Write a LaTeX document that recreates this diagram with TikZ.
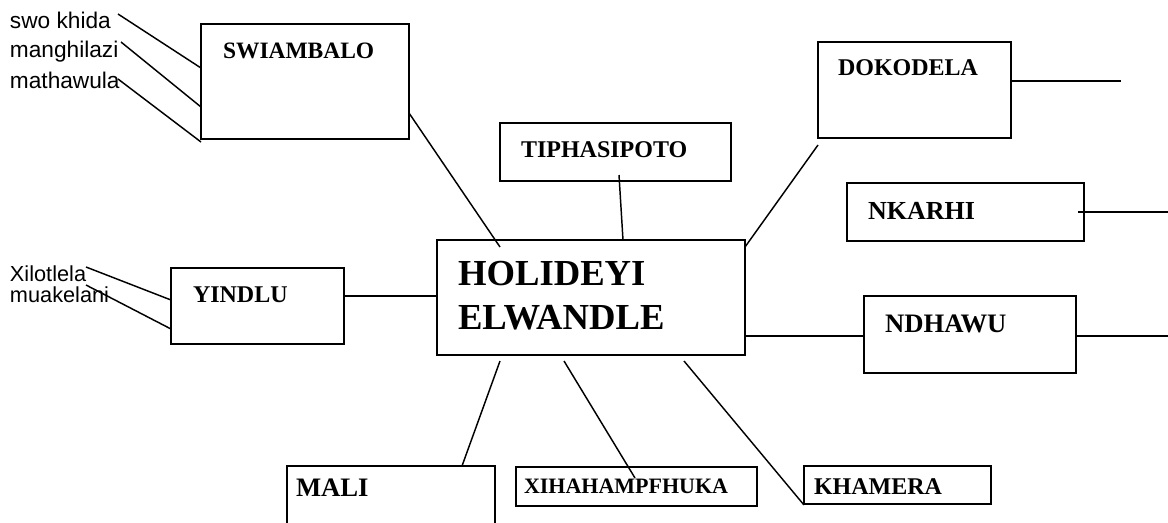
\documentclass[tikz,border=0pt]{standalone}
\usepackage{fontspec}
\setmainfont{Liberation Serif}
\newfontfamily\lsans{Liberation Sans}
\usetikzlibrary{calc}
\tikzset{
  box/.style={draw, line width=1.5pt, inner sep=0pt, outer sep=0pt},
  conn/.style={line width=1.1pt},
  lbl/.style={inner sep=0pt, outer sep=0pt, anchor=base west, font=\bfseries\fontsize{18pt}{22pt}\selectfont},
  side/.style={inner sep=0pt, outer sep=0pt, anchor=base west, font=\lsans\fontsize{17pt}{20pt}\selectfont}
}
\begin{document}
\begin{tikzpicture}[x=0.75pt, y=-0.75pt]
\useasboundingbox (0,0) rectangle (1168,522);
\clip (0,0) rectangle (1168,522);
% boxes
\node[box, minimum width=156pt, minimum height=86.25pt] (swiambalo) at (305,81.5) {};
\node[box, minimum width=173.25pt, minimum height=43.5pt] (tiphasipoto) at (615.5,152) {};
\node[box, minimum width=144.75pt, minimum height=72pt] (dokodela) at (914.5,90) {};
\node[box, minimum width=177.75pt, minimum height=43.5pt] (nkarhi) at (965.5,212) {};
\node[box, minimum width=231pt, minimum height=86.25pt] (central) at (591,297.5) {};
\node[box, minimum width=129.75pt, minimum height=57pt] (yindlu) at (257.5,306) {};
\node[box, minimum width=159pt, minimum height=57.75pt] (ndhawu) at (970,334.5) {};
\node[box, minimum width=156pt, minimum height=70.5pt] (mali) at (391,513) {};
\node[box, minimum width=180.75pt, minimum height=29.25pt] (xiha) at (636.5,486.5) {};
\node[box, minimum width=140.25pt, minimum height=28.5pt] (khamera) at (897.5,485) {};
% box texts
\node[lbl, font=\bfseries\fontsize{17.6pt}{22pt}\selectfont] (tswiambalo) at (223,58) {SWIAMBALO};
\node[lbl] (ttiphasipoto) at (521,157) {TIPHASIPOTO};
\node[lbl] (tdokodela) at (838,75) {DOKODELA};
\node[lbl, font=\bfseries\fontsize{19.5pt}{22pt}\selectfont] (tnkarhi) at (868,219) {NKARHI};
\node[lbl, font=\bfseries\fontsize{27.5pt}{33pt}\selectfont] (thol) at (458,285) {HOLIDEYI};
\node[lbl, font=\bfseries\fontsize{27.5pt}{33pt}\selectfont] (telw) at (458,329) {ELWANDLE};
\node[lbl] (tyindlu) at (193,302) {YINDLU};
\node[lbl, font=\bfseries\fontsize{20pt}{24pt}\selectfont] (tndhawu) at (885,332) {NDHAWU};
\node[lbl, font=\bfseries\fontsize{20pt}{24pt}\selectfont] (tmali) at (296,496) {MALI};
\node[lbl, font=\bfseries\fontsize{16.5pt}{20pt}\selectfont] (txiha) at (524,493) {XIHAHAMPFHUKA};
\node[lbl] (tkhamera) at (814,494) {KHAMERA};
% side texts
\node[side] (s1) at (10,28) {swo khida};
\node[side] (s2) at (10,57) {manghilazi};
\node[side] (s3) at (10,88) {mathawula};
\node[side, font=\lsans\fontsize{16.3pt}{20pt}\selectfont] (s4) at (10,281) {Xilotlela};
\node[side, font=\lsans\fontsize{16.3pt}{20pt}\selectfont] (s5) at (10,302) {muakelani};
% free ends
\coordinate (e1) at (118,14);
\coordinate (e2) at (121,42);
\coordinate (e3) at (118,79);
\coordinate (e4) at (86,267);
\coordinate (e5) at (86,285);
\coordinate (e6) at (1121,81);
\coordinate (e7) at (1168,212);
\coordinate (e8) at (1168,336);
% connectors
\draw[conn] (e1) -- (swiambalo.west |- 0,68);
\draw[conn] (e2) -- (swiambalo.west |- 0,107);
\draw[conn] (e3) -- (swiambalo.west |- 0,142);
\draw[conn] (e4) -- (yindlu.west |- 0,300);
\draw[conn] (e5) -- (yindlu.west |- 0,329);
\draw[conn] (swiambalo.east |- 0,113) -- ($(central.north west)+(63,7)$);
\draw[conn] ($(tiphasipoto.south)+(3.5,-6)$) -- (central.north -| 623,0);
\draw[conn] (central.east |- 0,247) -- ($(dokodela.south west)+(0,7)$);
\draw[conn] (dokodela.east |- 0,81) -- (e6);
\draw[conn] ($(nkarhi.east)+(-6,0)$) -- (e7);
\draw[conn] (central.east |- 0,336) -- (ndhawu.west |- 0,336);
\draw[conn] (ndhawu.east |- 0,336) -- (e8);
\draw[conn] (yindlu.east |- 0,296) -- (central.west |- 0,296);
\draw[conn] ($(central.south west)+(63,6)$) -- (mali.north -| 462,0);
\draw[conn] ($(central.south west)+(127,6)$) -- ($(xiha.north west)+(119,11)$);
\draw[conn] ($(central.south west)+(247,6)$) -- ($(khamera.south west)+(0,1)$);
\end{tikzpicture}
\end{document}
